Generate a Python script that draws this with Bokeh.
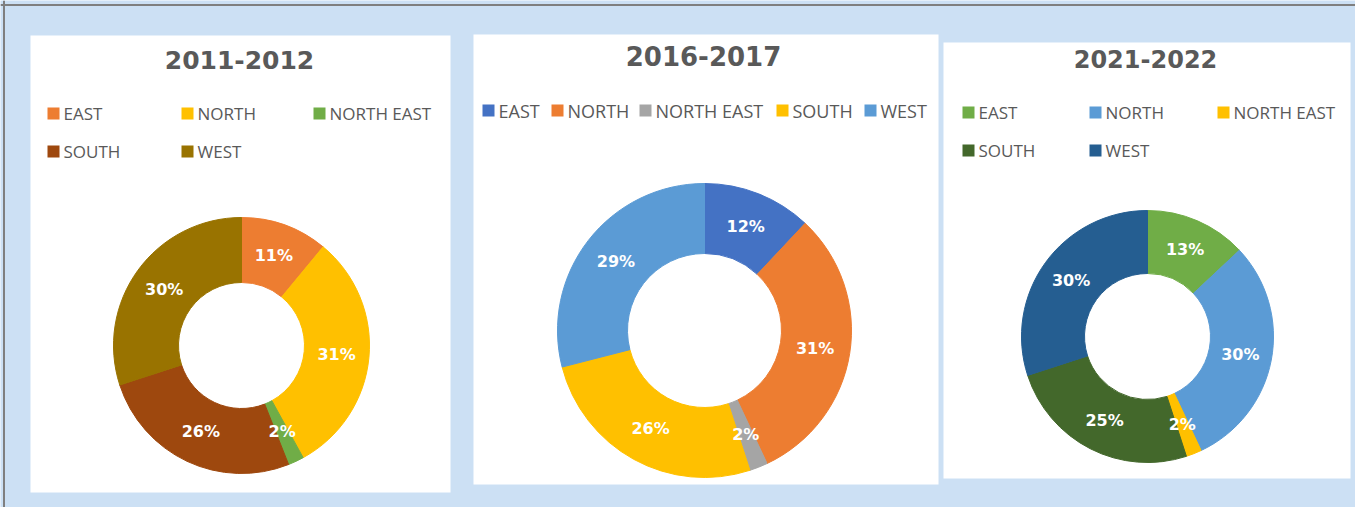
import math
from bokeh.plotting import figure
from bokeh.models import Range1d, ColumnDataSource, Span
from bokeh.core.properties import value
from bokeh.embed import file_html
from bokeh.resources import INLINE

# ---------------- data ----------------
regions = ["EAST", "NORTH", "NORTH EAST", "SOUTH", "WEST"]
titles = ["2011-2012", "2016-2017", "2021-2022"]
share_2011 = [11, 31, 2, 26, 30]
share_2016 = [12, 31, 2, 26, 29]
share_2021 = [13, 30, 2, 25, 30]
colors_2011 = ["#ED7D31", "#FFC000", "#70AD47", "#9E480E", "#997300"]
colors_2016 = ["#4472C4", "#ED7D31", "#A5A5A5", "#FFC000", "#5B9BD5"]
colors_2021 = ["#70AD47", "#5B9BD5", "#FFC000", "#43682B", "#255E91"]

# ---------------- layout (picture pixels) ----------------
W, H = 1355, 507
panels = [
    dict(title=titles[0], shares=share_2011, colors=colors_2011,
         box=(30, 450, 35, 492), c=(241, 345), ro=128, ri=63,
         tpos=(239, 59), tsize="25px", lsize="17px",
         leg=[(53, 113), (187, 113), (319, 113), (53, 151), (187, 151)]),
    dict(title=titles[1], shares=share_2016, colors=colors_2016,
         box=(473, 938, 34, 484), c=(704, 330), ro=147, ri=77,
         tpos=(703, 55), tsize="26px", lsize="18px",
         leg=[(488, 110), (557, 110), (645, 110), (782, 110), (870, 110)]),
    dict(title=titles[2], shares=share_2021, colors=colors_2021,
         box=(943, 1350, 42, 478), c=(1147, 336), ro=126, ri=63,
         tpos=(1145, 58), tsize="24px", lsize="17px",
         leg=[(968, 112), (1095, 112), (1223, 112), (968, 150), (1095, 150)]),
]

p = figure(width=W, height=H, x_range=Range1d(0, W), y_range=Range1d(-H, 0),
           output_backend="svg", toolbar_location=None, min_border=0,
           x_axis_location=None, y_axis_location=None)
p.grid.visible = False
p.outline_line_color = None
p.background_fill_color = "#CCE0F4"
p.border_fill_color = "#CCE0F4"

p.add_layout(Span(location=3.5, dimension="height", line_color="#7F7F7F", line_width=2))
p.add_layout(Span(location=-4.5, dimension="width", line_color="#7F7F7F", line_width=2))

for pn in panels:
    l, r, t, b = pn["box"]
    p.quad(left=[l], right=[r], top=[-t], bottom=[-b], fill_color="white", line_color=None)

    total = sum(pn["shares"])
    cx, cy = pn["c"]
    starts, ends, lx, ly, labels = [], [], [], [], []
    cum = 0
    rmid = (pn["ri"] + pn["ro"]) / 2
    for v in pn["shares"]:
        a0 = math.pi / 2 - 2 * math.pi * cum / total
        a1 = math.pi / 2 - 2 * math.pi * (cum + v) / total
        am = (a0 + a1) / 2
        starts.append(a0)
        ends.append(a1)
        lx.append(cx + rmid * math.cos(am))
        ly.append(-cy + rmid * math.sin(am))
        labels.append(f"{v}%")
        cum += v
    src = ColumnDataSource(dict(start=starts, end=ends, color=pn["colors"],
                                region=regions, share=pn["shares"]))
    p.annular_wedge(x=cx, y=-cy, inner_radius=pn["ri"], outer_radius=pn["ro"],
                    start_angle="start", end_angle="end", direction="clock",
                    fill_color="color", line_color="color", line_width=1, source=src)
    p.text(x=lx, y=ly, text=labels, text_align="center", text_baseline="middle",
           text_color="white", text_font=value("DejaVu Sans"), text_font_style="bold",
           text_font_size="16px")

    # title
    p.text(x=[pn["tpos"][0]], y=[-pn["tpos"][1]], text=[pn["title"]],
           text_align="center", text_baseline="middle", text_color="#595959",
           text_font=value("DejaVu Sans"), text_font_style="bold",
           text_font_size=pn["tsize"])

    # legend
    sx = [q[0] for q in pn["leg"]]
    sy = [-q[1] for q in pn["leg"]]
    p.scatter(x=sx, y=sy, marker="square", size=12, fill_color=pn["colors"], line_color=None)
    p.text(x=[v + 10 for v in sx], y=sy, text=regions, text_align="left",
           text_baseline="middle", text_color="#595959",
           text_font=value("Open Sans"), text_font_size=pn["lsize"])

open("out.html", "w").write(file_html(p, INLINE))
